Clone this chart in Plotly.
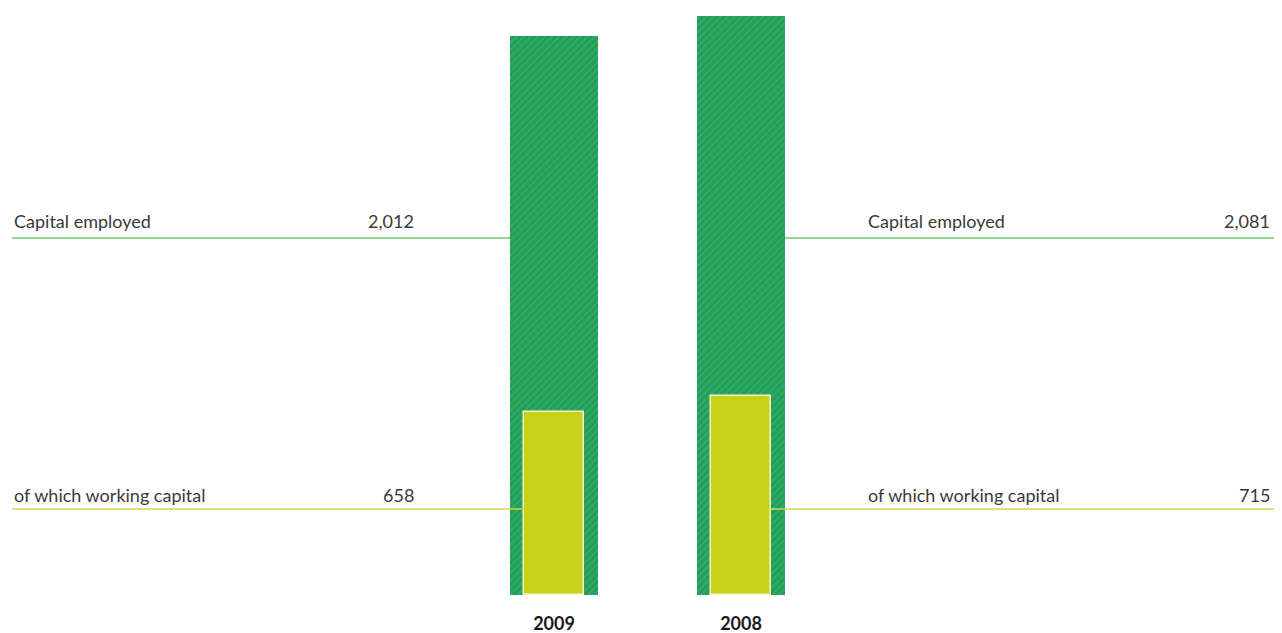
import plotly.graph_objects as go

years = ["2009", "2008"]
capital_employed = [2012, 2081]
working_capital = [658, 715]
cap_labels = ["2,012", "2,081"]
wc_labels = ["658", "715"]
label_cap = "Capital employed"
label_wc = "of which working capital"

# the page body adds an 8px offset; the figure is sized to the visible area
OFF = 8
W, H = 1282 - 2 * OFF, 633 - OFF
B = 38
PH = H - B
outer_w = 0.471
inner_w = 0.316


def px(sx):
    return (sx - OFF) / W


def py(sy):
    return (595 - sy) / PH


fig = go.Figure()
fig.add_trace(go.Bar(
    x=years, y=capital_employed, width=outer_w,
    marker=dict(color="#22a059", line=dict(width=0),
                pattern=dict(shape="/", fgcolor="#52bb7c", bgcolor="#22a059",
                             size=5, solidity=0.25, fillmode="overlay")),
    hoverinfo="skip", showlegend=False))
fig.add_trace(go.Bar(
    x=years, y=working_capital, width=inner_w,
    marker=dict(color="#c9d21a", line=dict(width=1.5, color="#f4f7c8")),
    hoverinfo="skip", showlegend=False))

text_font = dict(family="Lato, Open Sans, sans-serif", size=18, color="#3a3a3a")
cap_color = "#74c470"
wc_color = "#cdd94e"
y_cap_line, y_wc_line = py(238), py(509)
y_cap_text, y_wc_text = py(221), py(495)

shapes = []
annotations = []
for i, yr in enumerate(years):
    if i == 0:
        shapes.append(dict(type="line", xref="paper", yref="paper",
                           x0=px(12), x1=px(554), y0=y_cap_line, y1=y_cap_line,
                           line=dict(color=cap_color, width=1.5), layer="below"))
        shapes.append(dict(type="line", xref="paper", yref="paper",
                           x0=px(12), x1=px(554 - 187 * inner_w / 2), y0=y_wc_line, y1=y_wc_line,
                           line=dict(color=wc_color, width=1.5), layer="above"))
        tx0, tx1 = px(12), px(416)
    else:
        shapes.append(dict(type="line", xref="paper", yref="paper",
                           x0=px(741), x1=1.0, y0=y_cap_line, y1=y_cap_line,
                           line=dict(color=cap_color, width=1.5), layer="below"))
        shapes.append(dict(type="line", xref="paper", yref="paper",
                           x0=px(741 + 187 * inner_w / 2), x1=1.0, y0=y_wc_line, y1=y_wc_line,
                           line=dict(color=wc_color, width=1.5), layer="above"))
        tx0, tx1 = px(866), px(1272)
    annotations += [
        dict(text=label_cap, x=tx0, y=y_cap_text, xref="paper", yref="paper",
             xanchor="left", yanchor="middle", showarrow=False, font=text_font),
        dict(text=cap_labels[i], x=tx1, y=y_cap_text, xref="paper", yref="paper",
             xanchor="right", yanchor="middle", showarrow=False, font=text_font),
        dict(text=label_wc, x=tx0, y=y_wc_text, xref="paper", yref="paper",
             xanchor="left", yanchor="middle", showarrow=False, font=text_font),
        dict(text=wc_labels[i], x=tx1, y=y_wc_text, xref="paper", yref="paper",
             xanchor="right", yanchor="middle", showarrow=False, font=text_font),
    ]

x0_range = -(554 - OFF) / 187
fig.update_layout(
    width=W, height=H,
    margin=dict(l=0, r=0, t=0, b=B),
    paper_bgcolor="white", plot_bgcolor="white",
    barmode="overlay", bargap=0,
    shapes=shapes, annotations=annotations,
    xaxis=dict(type="category", range=[x0_range, x0_range + W / 187], showgrid=False,
               zeroline=False, showline=False, ticks="", tickvals=years,
               ticktext=["<b>" + y + "</b>" for y in years],
               tickfont=dict(family="Lato, Open Sans, sans-serif", size=18, color="#1a1a1a"),
               ticklabelstandoff=16, fixedrange=True),
    yaxis=dict(range=[0, PH / 0.278], visible=False, fixedrange=True),
)
fig.write_html("out.html")
